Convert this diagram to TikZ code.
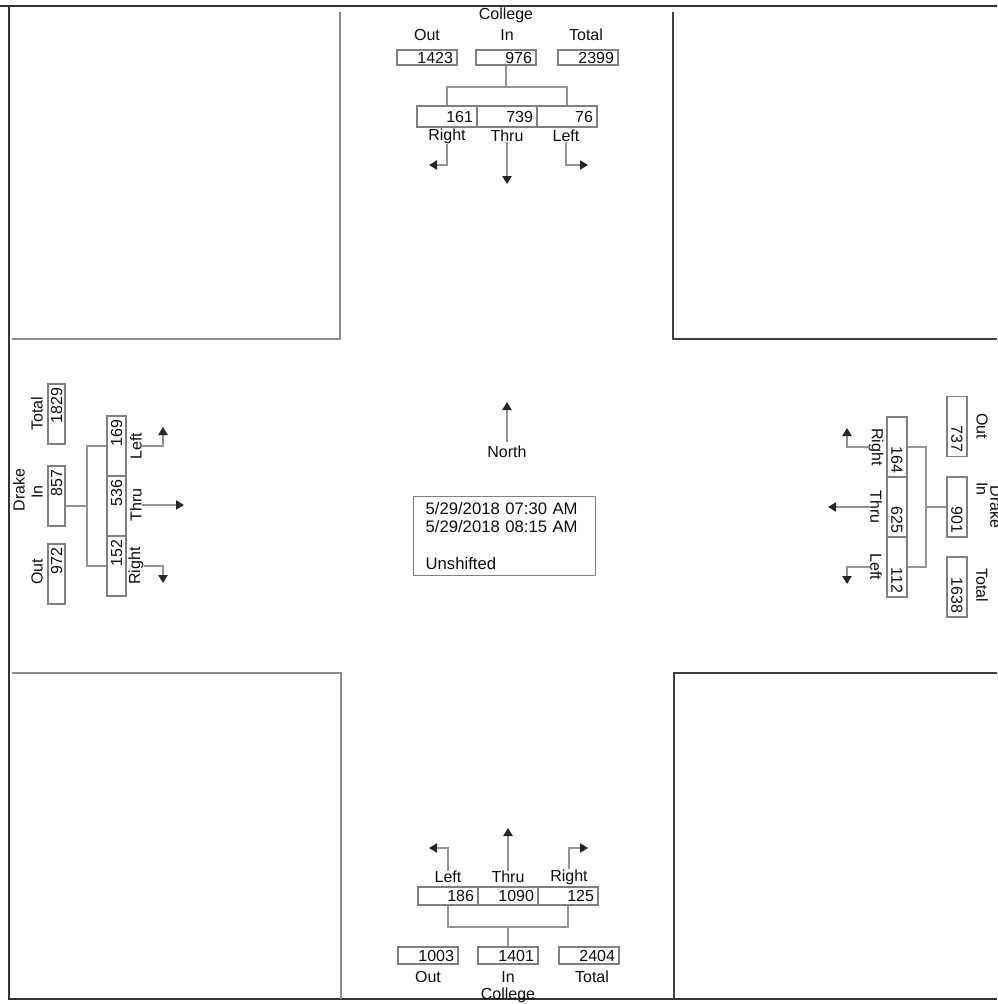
\documentclass[tikz,border=0pt]{standalone}
\usepackage{fontspec}
\setmainfont{Liberation Sans}
\usetikzlibrary{arrows.meta}
\definecolor{boxgray}{gray}{0.5}
\definecolor{linegray}{gray}{0.58}
\definecolor{txt}{gray}{0.05}
\newcommand\numf{\fontsize{12}{14}\selectfont}
\newcommand\infof{\fontsize{12.5}{13.75}\selectfont}
\begin{document}
\begin{tikzpicture}[x=0.75pt,y=-0.75pt,
 numbox/.style={draw=boxgray, line width=1pt, inner xsep=3pt, inner ysep=0pt, text width=39pt, minimum height=#1, align=right, font=\numf, text=txt, text height=8.4pt, text depth=0pt},
 lbl/.style={font=\numf, text=txt, inner sep=0pt},
 conn/.style={draw=linegray, line width=0.9pt},
 arr/.style={draw=linegray, line width=0.9pt, -{Triangle[length=6pt,width=7pt,color=black!85]}},
 lblock/.style={draw=black!45, line width=1.2pt},
 rblock/.style={draw=black!75, line width=1.5pt},
 frame/.style={draw=black!80, line width=2.2pt},
]
\useasboundingbox (0,0) rectangle (997,1004);
% frame
\draw[frame] (0,6) -- (997,6);
\draw[frame] (9,5) -- (9,1000);
\draw[frame] (9,999) -- (997,999);
% blocks
\draw[lblock] (340,12) -- (340,339) -- (12,339);
\draw[rblock] (673,12) -- (673,339) -- (997,339);
\draw[lblock] (12,673) -- (341,673) -- (341,999);
\draw[rblock] (997,673) -- (674,673) -- (674,999);

% ---------- North ----------
\node[lbl] (nCol) at (506,15) {College};
\node[lbl] (nOutL) at (427,35) {Out};
\node[lbl] (nInL) at (507,35) {In};
\node[lbl] (nTotL) at (586,35) {Total};
\node[numbox=11.25pt] (nOut) at (427,57.5) {1423};
\node[numbox=11.25pt] (nIn) at (506,57.5) {976};
\node[numbox=11.25pt] (nTot) at (588,57.5) {2399};
\node[numbox=15.75pt] (nR) at (447,116.5) {161};
\node[numbox=15.75pt] (nT) at (507,116.5) {739};
\node[numbox=15.75pt] (nL) at (567,116.5) {76};
\node[lbl] (nRl) at (447,136) {Right};
\node[lbl] (nTl) at (507,136) {Thru};
\node[lbl] (nLl) at (566,136) {Left};
\coordinate (nJ) at (506,87);
\draw[conn] (nR.north) |- (nJ) -| (nL.north);
\draw[conn] (nIn.south) -- (nJ);
\coordinate (nRa) at (429,165);
\coordinate (nTa) at (507,184);
\coordinate (nLa) at (588,165);
\draw[arr] (nRl.south) |- (nRa);
\draw[arr] (nTl.south) -- (nTa);
\draw[arr] (nLl.south) |- (nLa);

% ---------- West ----------
\node[lbl, rotate=90] (wDr) at (19,490) {Drake};
\node[lbl, rotate=90] (wTotL) at (37,414) {Total};
\node[lbl, rotate=90] (wInL) at (37,492) {In};
\node[lbl, rotate=90] (wOutL) at (37,572) {Out};
\node[numbox=12.75pt, rotate=90] (wTot) at (56.5,414) {1829};
\node[numbox=12.75pt, rotate=90] (wIn) at (56.5,496) {857};
\node[numbox=12.75pt, rotate=90] (wOut) at (56.5,574) {972};
\node[numbox=14.25pt, rotate=90] (wL) at (116.5,446) {169};
\node[numbox=14.25pt, rotate=90] (wT) at (116.5,506) {536};
\node[numbox=14.25pt, rotate=90] (wR) at (116.5,566) {152};
\node[lbl, rotate=90] (wLl) at (136,446) {Left};
\node[lbl, rotate=90] (wTl) at (136,505) {Thru};
\node[lbl, rotate=90] (wRl) at (136,566) {Right};
\coordinate (wJ) at (87,506);
\draw[conn] (wL.north) -| (wJ) |- (wR.north);
\draw[conn] (wIn.south |- wJ) -- (wJ);
\coordinate (wLa) at (163,427);
\coordinate (wTa) at (184,505);
\coordinate (wRa) at (163,583);
\draw[arr] (wLl.south) -| (wLa);
\draw[arr] (wTl.south) -- (wTa);
\draw[arr] (wRl.south) -| (wRa);

% ---------- East ----------
\node[lbl, rotate=-90] (eDr) at (996,507) {Drake};
\node[lbl, rotate=-90] (eOutL) at (982,426) {Out};
\node[lbl, rotate=-90] (eInL) at (982,489) {In};
\node[lbl, rotate=-90] (eTotL) at (982,585) {Total};
\node[numbox=15pt, rotate=-90] (eOut) at (957,426.5) {737};
\node[numbox=15pt, rotate=-90] (eIn) at (957,507) {901};
\node[numbox=15pt, rotate=-90] (eTot) at (957,587) {1638};
\node[numbox=15pt, rotate=-90] (eR) at (897,447) {164};
\node[numbox=15pt, rotate=-90] (eT) at (897,507) {625};
\node[numbox=15pt, rotate=-90] (eL) at (897,567) {112};
\node[lbl, rotate=-90] (eRl) at (876,447) {Right};
\node[lbl, rotate=-90] (eTl) at (876,507) {Thru};
\node[lbl, rotate=-90] (eLl) at (876,567) {Left};
\coordinate (eJ) at (926,507);
\draw[conn] (eR.north) -| (eJ) |- (eL.north);
\draw[conn] (eIn.south |- eJ) -- (eJ);
\coordinate (eRa) at (847,428);
\coordinate (eTa) at (828,507);
\coordinate (eLa) at (847,584);
\draw[arr] (eRl.south) -| (eRa);
\draw[arr] (eTl.south) -- (eTa);
\draw[arr] (eLl.south) -| (eLa);

% ---------- South ----------
\node[lbl] (sLl) at (448,877) {Left};
\node[lbl] (sTl) at (508,877) {Thru};
\node[lbl] (sRl) at (569,877) {Right};
\coordinate (sLa) at (429,848);
\coordinate (sTa) at (508,828);
\coordinate (sRa) at (588,848);
\draw[arr] (sLl.north) |- (sLa);
\draw[arr] (sTl.north) -- (sTa);
\draw[arr] (sRl.north) |- (sRa);
\node[numbox=13.5pt] (sL) at (448,896) {186};
\node[numbox=13.5pt] (sT) at (508,896) {1090};
\node[numbox=13.5pt] (sR) at (568,896) {125};
\node[numbox=12.75pt] (sOut) at (428,955.5) {1003};
\node[numbox=12.75pt] (sIn) at (508,955.5) {1401};
\node[numbox=12.75pt] (sTot) at (589,955.5) {2404};
\coordinate (sJ) at (508,927);
\draw[conn] (sL.south) |- (sJ) -| (sR.south);
\draw[conn] (sJ) -- (sIn.north);
\node[lbl] (sOutL) at (428,977) {Out};
\node[lbl] (sInL) at (508,977) {In};
\node[lbl] (sTotL) at (592,977) {Total};
\node[lbl] (sCol) at (508,995) {College};

% ---------- Center ----------
\node[lbl] (north) at (507,452) {North};
\coordinate (nArr) at (507,402);
\draw[arr, shorten <=3pt] (north.north) -- (nArr);
\node[draw=boxgray, line width=1pt, anchor=north west, minimum width=136.5pt, minimum height=59.25pt,
      text width=118.5pt, inner xsep=9pt, inner ysep=3pt, align=left, font=\infof, text=txt] (info) at (413,496)
  {5/29/2018 07:30 AM\\5/29/2018 08:15 AM\\\mbox{}\\Unshifted};
\end{tikzpicture}
\end{document}
